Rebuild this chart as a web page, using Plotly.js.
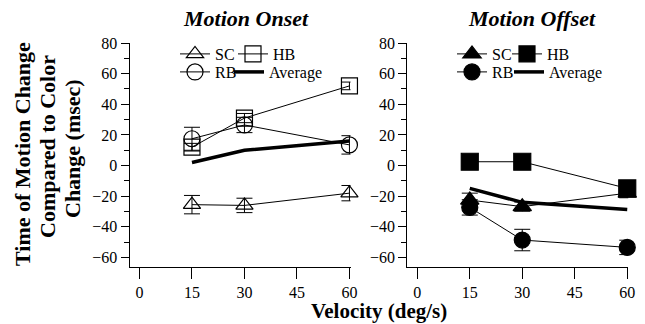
<!DOCTYPE html>
<html>
<head>
<meta charset="utf-8">
<script src="https://cdn.plot.ly/plotly-3.0.1.min.js"></script>
<style>html,body{margin:0;padding:0;background:#fff;}#chart{width:645px;height:324px;}</style>
</head>
<body>
<div id="chart"></div>
<script>
// Categories (velocity, deg/s)
const velocityTicks = ['0', '15', '30', '45', '60'];
const velocities = ['15', '30', '60'];

// Motion Onset (msec)
const onsetSC = [-25.5, -26, -18];
const onsetSCErr = [6, 4.7, 5];
const onsetRB = [17.5, 26.5, 13.5];
const onsetRBErr = [7.5, 5, 6];
const onsetHB = [12, 31, 52];
const onsetHBErr = [2.5, 3, 2.5];
const onsetAvg = [2, 10, 16];

// Motion Offset (msec)
const offsetSC = [-22.5, -26.8, -18];
const offsetSCErr = [4.5, 3, 3];
const offsetRB = [-27.3, -48.6, -53.4];
const offsetRBErr = [5, 7, 4.7];
const offsetHB = [2.5, 2.5, -14.9];
const offsetHBErr = [3, 3, 4];
const offsetAvg = [-14.9, -24, -28.6];

const FONT = 'Liberation Serif';
const W = 645, H = 324;

function series(name, y, err, symbol, size, xa, ya, leg) {
  const tr = {
    x: velocities, y: y, name: name, type: 'scatter', mode: 'lines+markers',
    xaxis: xa, yaxis: ya, legend: leg,
    line: {color: 'black', width: 1},
    marker: {symbol: symbol, size: size, color: 'black',
             line: {color: 'black', width: 1.2}},
    cliponaxis: false
  };
  if (err) tr.error_y = {type: 'data', array: err, visible: true, color: 'black', thickness: 1, width: 8};
  return tr;
}
function avg(y, xa, ya, leg) {
  return {x: velocities, y: y, name: 'Average', type: 'scatter', mode: 'lines',
          xaxis: xa, yaxis: ya, legend: leg, line: {color: 'black', width: 3.5}};
}

const data = [
  series('SC', onsetSC, onsetSCErr, 'triangle-up-open', 15, 'x', 'y', 'legend'),
  series('RB', onsetRB, onsetRBErr, 'circle-open', 16, 'x', 'y', 'legend3'),
  series('HB', onsetHB, onsetHBErr, 'square-open', 16, 'x', 'y', 'legend2'),
  avg(onsetAvg, 'x', 'y', 'legend4'),
  series('SC', offsetSC, offsetSCErr, 'triangle-up', 16, 'x2', 'y2', 'legend5'),
  series('RB', offsetRB, offsetRBErr, 'circle', 16, 'x2', 'y2', 'legend7'),
  series('HB', offsetHB, offsetHBErr, 'square', 17, 'x2', 'y2', 'legend6'),
  avg(offsetAvg, 'x2', 'y2', 'legend8')
];

const yDomain = [1 - 266.7 / H, 1 - 43 / H];
function xAxis(d0, d1, anchor) {
  return {
    domain: [d0 / W, d1 / W], anchor: anchor, type: 'category',
    categoryorder: 'array', categoryarray: velocityTicks,
    range: [-0.19, 4.02], showline: true, linecolor: 'black', linewidth: 1,
    ticks: 'outside', ticklen: 11, tickwidth: 1, tickcolor: 'black',
    showgrid: false, zeroline: false,
    tickfont: {family: FONT, size: 16, color: 'black'}
  };
}
function yAxis(anchor) {
  return {
    domain: yDomain, anchor: anchor, range: [-66, 80],
    tickvals: [-60, -40, -20, 0, 20, 40, 60, 80],
    showline: true, linecolor: 'black', linewidth: 1,
    ticks: 'outside', ticklen: 8, tickwidth: 1, tickcolor: 'black',
    minor: {tickvals: [-50, -30, -10, 10, 30, 50, 70], ticks: 'outside', ticklen: 5, tickwidth: 1, tickcolor: 'black', showgrid: false},
    showgrid: false, zeroline: false,
    tickfont: {family: FONT, size: 16, color: 'black'}
  };
}
function legendAt(px, py) {
  return {
    x: px / W, y: 1 - py / H, xanchor: 'left', yanchor: 'top',
    orientation: 'v',
    bgcolor: 'rgba(0,0,0,0)', borderwidth: 0, itemwidth: 30,
    font: {family: FONT, size: 16, color: 'black'}, tracegroupgap: 0
  };
}

const layout = {
  width: W, height: H,
  margin: {l: 0, r: 0, t: 0, b: 0},
  paper_bgcolor: 'white', plot_bgcolor: 'white',
  showlegend: true,
  xaxis: xAxis(129.5, 350.5, 'y'),
  yaxis: yAxis('x'),
  xaxis2: xAxis(407.3, 628.3, 'y2'),
  yaxis2: yAxis('x2'),
  legend: legendAt(175, 37),
  legend2: legendAt(233, 37),
  legend3: legendAt(175, 55),
  legend4: legendAt(229, 55),
  legend5: legendAt(452, 37),
  legend6: legendAt(507, 37),
  legend7: legendAt(452, 55),
  legend8: legendAt(509, 55),
  annotations: [
    {text: '<b><i>Motion Onset</i></b>', x: 246 / W, y: 1 - 18 / H, xref: 'paper', yref: 'paper',
     xanchor: 'center', yanchor: 'middle', showarrow: false, font: {family: FONT, size: 22, color: 'black'}},
    {text: '<b><i>Motion Offset</i></b>', x: 531.5 / W, y: 1 - 18 / H, xref: 'paper', yref: 'paper',
     xanchor: 'center', yanchor: 'middle', showarrow: false, font: {family: FONT, size: 22, color: 'black'}},
    {text: '<b>Velocity (deg/s)</b>', x: 379 / W, y: 0, xref: 'paper', yref: 'paper', borderpad: 0,
     xanchor: 'center', yanchor: 'bottom', showarrow: false, font: {family: FONT, size: 21, color: 'black'}},
    {text: '<b>Time of Motion Change</b>', x: 22 / W, y: 1 - 154 / H, xref: 'paper', yref: 'paper', textangle: -90,
     xanchor: 'center', yanchor: 'middle', showarrow: false, font: {family: FONT, size: 22, color: 'black'}},
    {text: '<b>Compared to Color</b>', x: 47 / W, y: 1 - 147 / H, xref: 'paper', yref: 'paper', textangle: -90,
     xanchor: 'center', yanchor: 'middle', showarrow: false, font: {family: FONT, size: 22, color: 'black'}},
    {text: '<b>Change (msec)</b>', x: 72 / W, y: 1 - 149 / H, xref: 'paper', yref: 'paper', textangle: -90,
     xanchor: 'center', yanchor: 'middle', showarrow: false, font: {family: FONT, size: 22, color: 'black'}}
  ]
};

Plotly.newPlot('chart', data, layout, {displayModeBar: false, staticPlot: true});
</script>
</body>
</html>
